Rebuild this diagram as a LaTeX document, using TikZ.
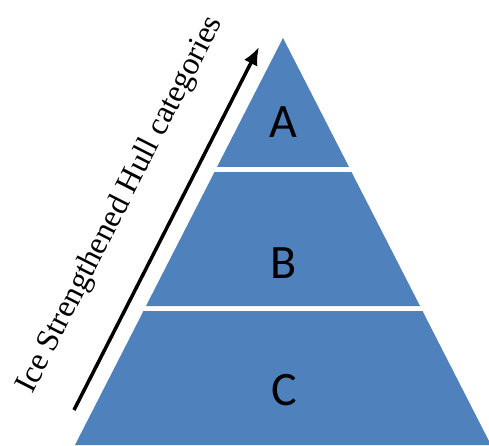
\documentclass[tikz,border=0pt]{standalone}
\usepackage{fontspec}
\setmainfont{Liberation Serif}
\newfontfamily\tierfont{Carlito}
\usepackage{tikz}
\usetikzlibrary{arrows.meta,calc}
\definecolor{tier_blue}{HTML}{4F81BD}

\begin{document}
\begin{tikzpicture}[x=1pt,y=1pt]

    \useasboundingbox (0,0) rectangle (489,445);

    \fill[tier_blue] (217,278) to (349,278) to (283,407) to (217,278);
    \fill[tier_blue] (146,139) to (420,139) to (351.5,273) to (214.5,273) to (146,139);
    \fill[tier_blue] (75,0) to (491,0) to (422.5,134) to (143.5,134) to (75,0);

    \node (tier_a) at (283,323) {\tierfont\fontsize{48}{48}\selectfont A};
    \node (tier_b) at (284,182) {\tierfont\fontsize{48}{48}\selectfont B};
    \node (tier_c) at (284,55) {\tierfont\fontsize{48}{48}\selectfont C};

    \coordinate (arrow_tail) at (74,35);
    \coordinate (arrow_tip) at (259,398);

    \draw[line width=3.5,-{Latex[length=18,width=15]}] (arrow_tail)
        to node[sloped,above=32pt] (axis_label)
        {\fontsize{32}{32}\selectfont Ice Strengthened Hull categories}
        (arrow_tip);

\end{tikzpicture}
\end{document}
